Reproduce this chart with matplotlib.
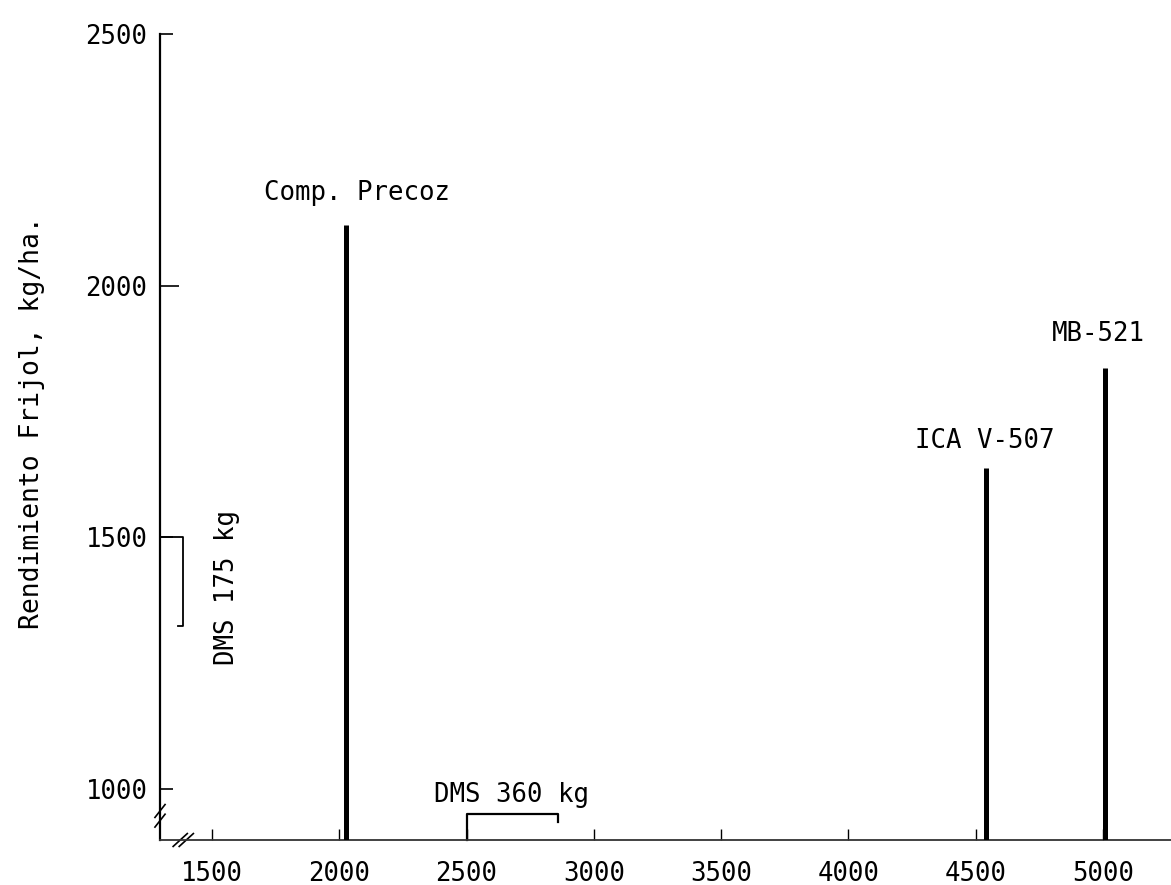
import matplotlib
matplotlib.use("Agg")
import matplotlib.pyplot as plt

# ---- data ----
varieties = ["Comp. Precoz", "ICA V-507", "MB-521"]
x_values = [2026, 4540, 5008]
yields = [2120, 1638, 1836]
x_ticks = [1500, 2000, 2500, 3000, 3500, 4000, 4500, 5000]
y_ticks = [1000, 1500, 2000, 2500]
dms_x = 360      # DMS along x, kg
dms_x_start = 2500
dms_y = 175      # DMS along y, kg
dms_y_start = 1500
ylabel = "Rendimiento Frijol, kg/ha."

FONT = "DejaVu Sans Mono"
FS = 18.5

XLIM = (1296, 5267)
YLIM = (899, 2500)

fig = plt.figure(figsize=(11.71, 8.85), dpi=100)
ax = fig.add_axes([160 / 1171, 45 / 885, 1011 / 1171, 806 / 885])
ax.set_xlim(*XLIM)
ax.set_ylim(*YLIM)

# bars (thin vertical lines)
ax.vlines(x_values, YLIM[0], yields, colors="black", lw=3.6, zorder=3)

# variety labels
offsets = [(8, 14), (-1, 10), (-5, 15)]  # offset in points (dx, dy) from bar top
for name, xv, yv, off in zip(varieties, x_values, yields, offsets):
    ax.annotate(name, (xv, yv), xytext=off, textcoords="offset points",
                ha="center", va="bottom", fontsize=FS, family=FONT)

# spines / ticks
for s in ("top", "right"):
    ax.spines[s].set_visible(False)
ax.spines["left"].set_linewidth(1.6)
ax.spines["bottom"].set_linewidth(1.3)
ax.spines["bottom"].set_color("#333333")

ax.set_xticks(x_ticks)
ax.set_yticks(y_ticks)
ax.set_xticklabels([str(t) for t in x_ticks], family=FONT, fontsize=FS)
ax.set_yticklabels([str(t) for t in y_ticks], family=FONT, fontsize=FS)
ax.tick_params(axis="y", direction="in", length=9, width=1.2, pad=9)
ax.tick_params(axis="x", direction="in", length=8, width=1.0, pad=15)
ax.yaxis.get_major_ticks()[2].tick1line.set_markersize(14)

# DMS bracket along x
xb0, xb1 = dms_x_start, dms_x_start + dms_x
ax.plot([xb0, xb0, xb1, xb1], [YLIM[0], 950, 950, 934], color="black", lw=1.6,
        clip_on=False)
ax.text((xb0 + xb1) / 2 - 5, 962, "DMS 360 kg", ha="center", va="bottom",
        fontsize=FS, family=FONT)

# DMS bracket along y
yb0, yb1 = dms_y_start, dms_y_start - dms_y
ax.plot([XLIM[0], 1386, 1386, 1367], [yb0, yb0, yb1, yb1], color="black", lw=1.3,
        clip_on=False)
ax.text(1559, 1401, "DMS 175 kg", rotation=90, ha="center", va="center",
        fontsize=FS, family=FONT)

# axis-break marks
bt = ax.transAxes
for d in (-0.006, 0.006):
    ax.plot([-0.005, 0.005], [0.022 + d, 0.038 + d], color="black", lw=1.2,
            transform=bt, clip_on=False)
for d in (-0.003, 0.003):
    ax.plot([0.016 + d, 0.030 + d], [-0.008, 0.008], color="black", lw=1.2,
            transform=bt, clip_on=False)

# y label
fig.text(32 / 1171, 1 - 423 / 885, ylabel, rotation=90, ha="center", va="center",
         fontsize=19, family=FONT)

fig.savefig("out.png", dpi=100)
